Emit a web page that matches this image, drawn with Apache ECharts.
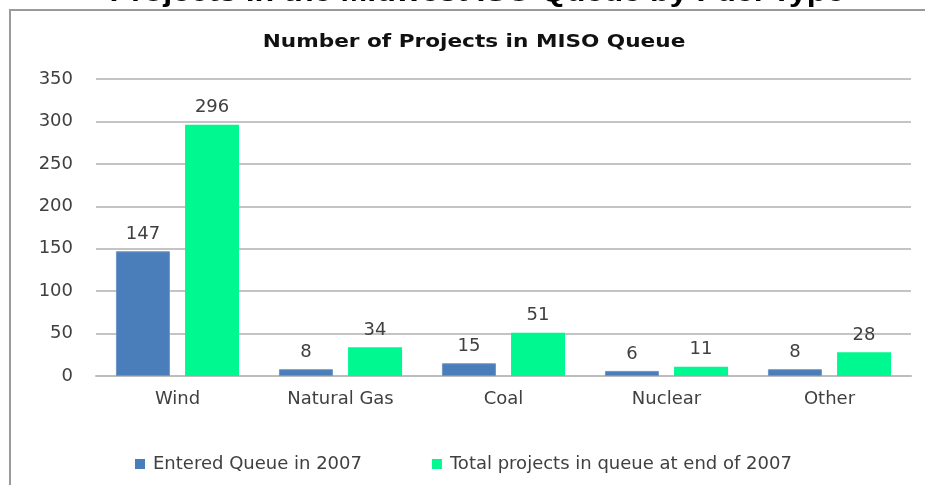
<!DOCTYPE html>
<html>
<head>
<meta charset="utf-8">
<script src="https://cdn.jsdelivr.net/npm/echarts@6/dist/echarts.min.js"></script>
<style>
  html, body { margin: 0; padding: 0; background: #fff; }
  #chart { width: 925px; height: 485px; }
</style>
</head>
<body>
<div id="chart"></div>
<script>
// 数据
const categories = ['Wind', 'Natural Gas', 'Coal', 'Nuclear', 'Other']
const enteredQueue = [147, 8, 15, 6, 8]
const totalInQueue = [296, 34, 51, 11, 28]
const seriesNames = ['Entered Queue in 2007', 'Total projects in queue at end of 2007']

const chart = echarts.init(document.getElementById('chart'))

const labelStyle = {
  show: true,
  position: 'top',
  distance: 8,
  color: '#404040',
  fontFamily: 'DejaVu Sans',
  fontSize: 18,
}

const option = {
  animation: false,
  backgroundColor: '#fff',
  graphic: [
    // 外框（只有左边和上边可见）
    {
      type: 'polyline',
      shape: { points: [[10, 1000], [10, 10], [1000, 10]] },
      style: { fill: 'none', stroke: '#9a9a9a', lineWidth: 2 },
    },
    {
      type: 'text',
      x: 477,
      y: -21,
      scaleX: 1.15,
      style: {
        text: 'Projects in the Midwest ISO Queue by Fuel Type',
        fontFamily: 'Liberation Sans',
        fontWeight: 'bold',
        fontSize: 28,
        fill: '#000',
        align: 'center',
        verticalAlign: 'top',
      },
    },
    {
      type: 'text',
      x: 474,
      y: 33,
      scaleX: 1.2,
      style: {
        text: 'Number of Projects in MISO Queue',
        fontFamily: 'DejaVu Sans',
        fontWeight: 'bold',
        fontSize: 18,
        fill: '#111',
        align: 'center',
        verticalAlign: 'top',
      },
    },
  ],
  legend: {
    data: seriesNames,
    left: 130,
    top: 450,
    itemWidth: 10,
    itemHeight: 10,
    itemGap: 70,
    icon: 'rect',
    itemStyle: { borderWidth: 0 },
    textStyle: {
      fontFamily: 'DejaVu Sans',
      fontSize: 18,
      color: '#404040',
      padding: [0, 0, 0, 3],
    },
  },
  grid: {
    left: 96,
    right: 14,
    top: 79,
    bottom: 109,
  },
  xAxis: {
    type: 'category',
    data: categories,
    axisTick: { show: false },
    axisLine: { lineStyle: { color: '#bdbdbd', width: 2 } },
    axisLabel: {
      margin: 14,
      color: '#404040',
      fontFamily: 'DejaVu Sans',
      fontSize: 18,
    },
  },
  yAxis: {
    type: 'value',
    min: 0,
    max: 350,
    interval: 50,
    axisLine: { show: false },
    axisTick: { show: false },
    splitLine: { lineStyle: { color: '#c4c4c4', width: 2 } },
    axisLabel: {
      margin: 23,
      color: '#404040',
      fontFamily: 'DejaVu Sans',
      fontSize: 18,
    },
  },
  series: [
    {
      name: seriesNames[0],
      type: 'bar',
      data: enteredQueue,
      barWidth: 54,
      barGap: '28%',
      itemStyle: { color: '#4a7ebb', borderColor: '#6f96c8', borderWidth: 1 },
      label: labelStyle,
    },
    {
      name: seriesNames[1],
      type: 'bar',
      data: totalInQueue,
      barWidth: 54,
      itemStyle: { color: '#00f891' },
      label: labelStyle,
    },
  ],
}

chart.setOption(option)
</script>
</body>
</html>
